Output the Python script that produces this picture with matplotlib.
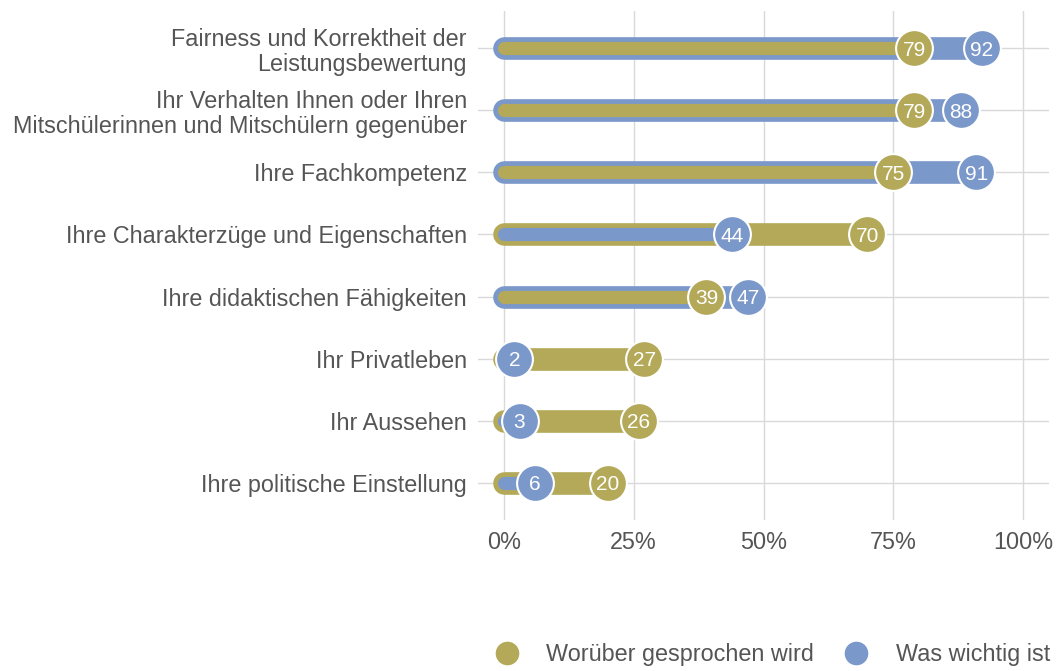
import numpy as np
import matplotlib
matplotlib.use("Agg")
import matplotlib.pyplot as plt
from matplotlib.lines import Line2D

plt.rcParams["font.family"] = ["Liberation Sans", "DejaVu Sans"]

categories = [
    "Fairness und Korrektheit der\nLeistungsbewertung",
    "Ihr Verhalten Ihnen oder Ihren\nMitschülerinnen und Mitschülern gegenüber",
    "Ihre Fachkompetenz",
    "Ihre Charakterzüge und Eigenschaften",
    "Ihre didaktischen Fähigkeiten",
    "Ihr Privatleben",
    "Ihr Aussehen",
    "Ihre politische Einstellung",
]
talked_about = [79, 79, 75, 70, 39, 27, 26, 20]
important = [92, 88, 91, 44, 47, 2, 3, 6]
series_names = ["Worüber gesprochen wird", "Was wichtig ist"]
x_ticks = [0, 25, 50, 75, 100]
x_tick_labels = ["0%", "25%", "50%", "75%", "100%"]

OLIVE = "#b3a958"
BLUE = "#7b98ca"
TEXT = "#555555"
GRID = "#d9d9d9"
FS = 16.8

fig = plt.figure(figsize=(10.58, 6.71), dpi=100)
ax = fig.add_axes([478 / 1058, 1 - 520 / 671, 571 / 1058, 509 / 671])

ypos = np.arange(len(categories))
a = np.array(talked_about, dtype=float)
b = np.array(important, dtype=float)

# longer bar of each pair sits behind as a thicker band, shorter one on top
a_longer = a >= b
long_vals = np.where(a_longer, a, b)
short_vals = np.where(a_longer, b, a)
long_cols = [OLIVE if f else BLUE for f in a_longer]
short_cols = [BLUE if f else OLIVE for f in a_longer]

ax.hlines(ypos, 0, long_vals, colors=long_cols, linewidth=16.3,
          capstyle="round", zorder=2)
ax.hlines(ypos, 0, short_vals, colors=short_cols, linewidth=9.5,
          capstyle="round", zorder=3)

# value dots with labels
ms = 26.5 ** 2
ax.scatter(a, ypos, s=ms, color=OLIVE, edgecolors="white", linewidths=1.5, zorder=4)
ax.scatter(b, ypos, s=ms, color=BLUE, edgecolors="white", linewidths=1.5, zorder=5)
for yi, v in zip(ypos, a):
    ax.text(v, yi, f"{v:.0f}", color="white", fontsize=15, ha="center",
            va="center_baseline", zorder=6)
for yi, v in zip(ypos, b):
    ax.text(v, yi, f"{v:.0f}", color="white", fontsize=15, ha="center",
            va="center_baseline", zorder=6)

ax.set_xlim(-5, 105)
ax.set_ylim(len(categories) - 1 + 0.6, -0.6)
ax.set_xticks(x_ticks)
ax.set_xticklabels(x_tick_labels)
ax.set_yticks(ypos)
ax.set_yticklabels(categories, linespacing=1.12)
ax.tick_params(axis="both", length=0, labelsize=FS, labelcolor=TEXT)
ax.tick_params(axis="y", pad=8)
ax.tick_params(axis="x", pad=8)
ax.grid(True, color=GRID, linewidth=1.0, zorder=0)
ax.set_axisbelow(True)
for s in ax.spines.values():
    s.set_visible(False)

handles = [
    Line2D([], [], linestyle="none", marker="o", markersize=17,
           markerfacecolor=OLIVE, markeredgecolor="none"),
    Line2D([], [], linestyle="none", marker="o", markersize=17,
           markerfacecolor=BLUE, markeredgecolor="none"),
]
leg = fig.legend(handles, series_names, loc="center right", ncol=2,
                 bbox_to_anchor=(1050 / 1058, 1 - 655 / 671), frameon=False,
                 fontsize=FS, handlelength=1.0, handletextpad=1.2,
                 columnspacing=1.3, borderpad=0, borderaxespad=0)
for t in leg.get_texts():
    t.set_color(TEXT)

fig.savefig("out.png", dpi=100)
